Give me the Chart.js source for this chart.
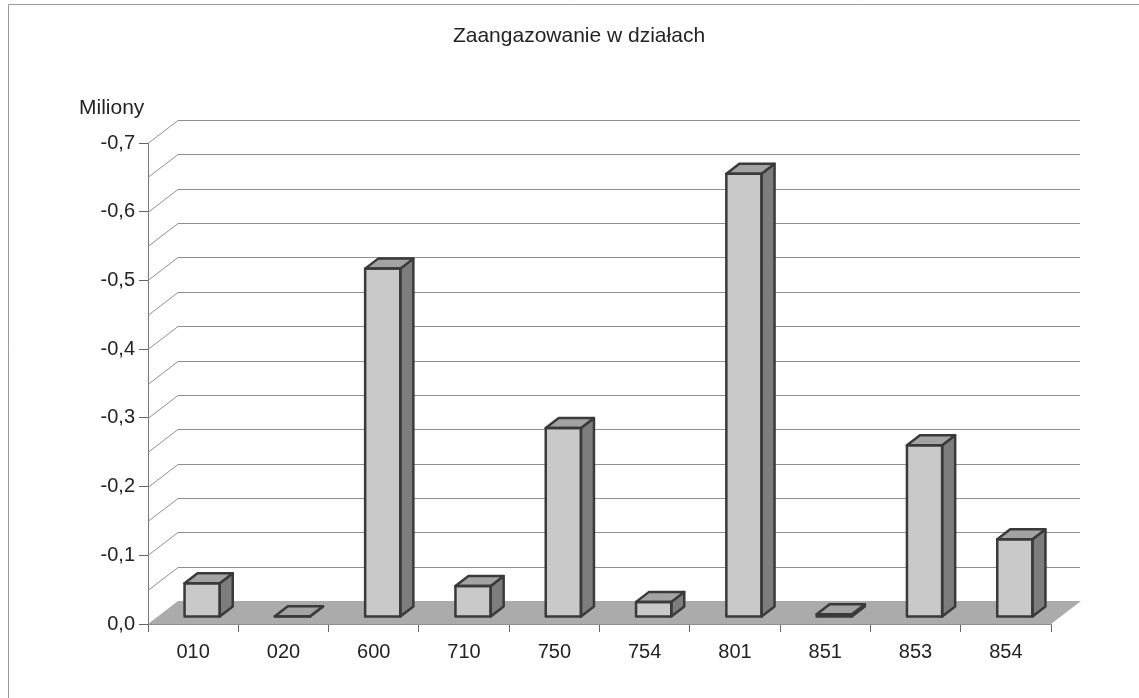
<!DOCTYPE html>
<html lang="pl">
<head>
<meta charset="utf-8">
<title>Zaangazowanie w działach</title>
<script src="https://cdn.jsdelivr.net/npm/chart.js@4.4.0/dist/chart.umd.js"></script>
<style>
  html, body { margin: 0; background: #fff; overflow: hidden; }
  canvas { display: block; filter: blur(0.4px); }
</style>
</head>
<body>
<canvas id="chart" width="1139" height="698"></canvas>
<script>
const chartTitle = 'Zaangazowanie w działach';
const unitLabel = 'Miliony';
const categories = ['010', '020', '600', '710', '750', '754', '801', '851', '853', '854'];
const values = [-0.049, -0.001, -0.507, -0.045, -0.275, -0.022, -0.645, -0.004, -0.25, -0.113];
const gridValues = [-0.05, -0.1, -0.15, -0.2, -0.25, -0.3, -0.35, -0.4, -0.45, -0.5, -0.55, -0.6, -0.65, -0.7];

const FONT = '"Liberation Sans", Arial, sans-serif';
const INK = '#232323';
const OUTLINE = '#3a3a3a';

// depth of the floor and of the bars, in pixels
const floorDepth = { x: 30, y: -23 };
const barShift = { x: 9, y: -7 };
const barDepth = { x: 13, y: -10 };

function poly(ctx, pts, fill, stroke, width) {
  ctx.beginPath();
  pts.forEach((p, i) => (i ? ctx.lineTo(p[0], p[1]) : ctx.moveTo(p[0], p[1])));
  ctx.closePath();
  if (fill) {
    ctx.fillStyle = fill;
    ctx.fill();
  }
  if (stroke) {
    ctx.strokeStyle = stroke;
    ctx.lineWidth = width;
    ctx.lineJoin = 'round';
    ctx.stroke();
  }
}

const scene3d = {
  id: 'scene3d',
  beforeDatasetsDraw(chart) {
    const { ctx, chartArea: area, scales: { y } } = chart;
    const bottom = y.getPixelForValue(0);

    ctx.save();
    // floor
    poly(ctx, [
      [area.left, bottom],
      [area.right, bottom],
      [area.right + floorDepth.x, bottom + floorDepth.y],
      [area.left + floorDepth.x, bottom + floorDepth.y]
    ], '#ababab');

    // slanted grid lines, running along the side wall and the back wall
    ctx.strokeStyle = '#8f8f8f';
    ctx.lineWidth = 1;
    gridValues.forEach(v => {
      const py = Math.round(y.getPixelForValue(v)) + 0.5;
      ctx.beginPath();
      ctx.moveTo(area.left, py);
      ctx.lineTo(area.left + floorDepth.x, py + floorDepth.y);
      ctx.lineTo(area.right + floorDepth.x - 1, py + floorDepth.y);
      ctx.stroke();
    });

    // frame of the scanned page, open on the right and at the bottom
    ctx.strokeStyle = '#9a9a9a';
    ctx.beginPath();
    ctx.moveTo(8.5, chart.height);
    ctx.lineTo(8.5, 4.5);
    ctx.lineTo(chart.width, 4.5);
    ctx.stroke();

    ctx.fillStyle = INK;
    ctx.textBaseline = 'middle';
    ctx.textAlign = 'center';
    ctx.font = '21px ' + FONT;
    ctx.fillText(chartTitle, 579, 36);
    ctx.textAlign = 'left';
    ctx.fillText(unitLabel, 79, 108);
    ctx.restore();
  },
  beforeDatasetDraw(chart) {
    chart.ctx.save();
    chart.ctx.translate(barShift.x, barShift.y);
  },
  afterDatasetDraw(chart, args) {
    const { ctx } = chart;
    chart.getDatasetMeta(args.index).data.forEach(bar => {
      const l = bar.x - bar.width / 2;
      const r = bar.x + bar.width / 2;
      const t = bar.y;
      const b = bar.base;
      const dx = barDepth.x;
      const dy = barDepth.y;
      poly(ctx, [[r, b], [r + dx, b + dy], [r + dx, t + dy], [r, t]], '#7d7d7d', OUTLINE, 2.5);
      poly(ctx, [[l, t], [r, t], [r + dx, t + dy], [l + dx, t + dy]], '#a3a3a3', OUTLINE, 2.5);
      poly(ctx, [[l, t], [r, t], [r, b], [l, b]], null, OUTLINE, 2.5);
    });
    ctx.restore();
  }
};

new Chart(document.getElementById('chart'), {
  type: 'bar',
  plugins: [scene3d],
  data: {
    labels: categories,
    datasets: [{
      data: values,
      backgroundColor: '#c9c9c9',
      borderWidth: 0,
      categoryPercentage: 1,
      barPercentage: 0.39
    }]
  },
  options: {
    responsive: false,
    animation: false,
    layout: { padding: { top: 143, right: 88 } },
    plugins: {
      legend: { display: false },
      tooltip: { enabled: false }
    },
    scales: {
      x: {
        afterFit: scale => { scale.height = 74; },
        border: { color: '#8f8f8f' },
        grid: { drawOnChartArea: false, tickLength: 8, tickColor: '#666', offset: true },
        ticks: { color: INK, padding: 8, maxRotation: 0, font: { family: FONT, size: 20 } }
      },
      y: {
        reverse: true,
        min: -0.7,
        max: 0,
        afterFit: scale => { scale.width = 148; },
        border: { color: '#777' },
        grid: { drawOnChartArea: false, tickLength: 9, tickColor: '#666' },
        ticks: {
          stepSize: 0.1,
          color: INK,
          padding: 4,
          font: { family: FONT, size: 20 },
          callback: v => v.toFixed(1).replace('.', ',')
        }
      }
    }
  }
});
</script>
</body>
</html>
